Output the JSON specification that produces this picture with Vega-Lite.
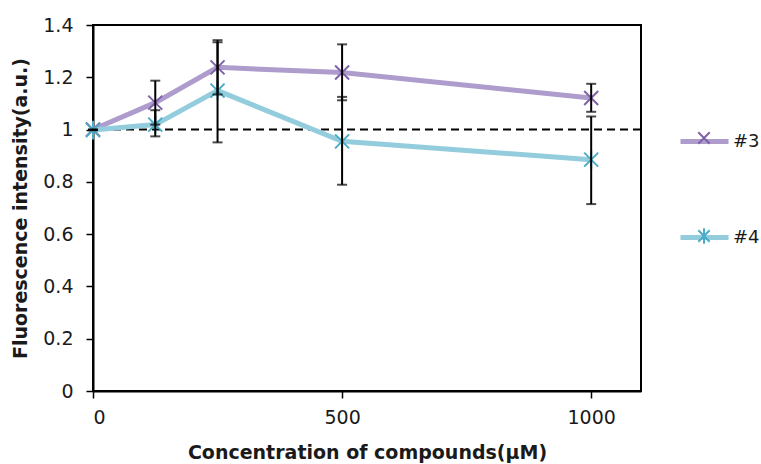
{
  "$schema": "https://vega.github.io/schema/vega-lite/v6.json",
  "width": 548,
  "height": 366,
  "autosize": "none",
  "padding": {"left": 93, "top": 25, "right": 120, "bottom": 73},
  "background": "white",
  "config": {
    "font": "DejaVu Sans",
    "view": {"stroke": "black", "strokeWidth": 2},
    "axis": {
      "grid": false,
      "domainColor": "black",
      "domainWidth": 2,
      "tickColor": "black",
      "tickWidth": 1.5,
      "tickSize": 7,
      "labelFont": "DejaVu Sans",
      "labelFontSize": 19,
      "labelColor": "#1a1a1a",
      "titleFont": "DejaVu Sans",
      "titleFontSize": 19,
      "titleFontWeight": "bold",
      "titleColor": "#1a1a1a"
    }
  },
  "data": {
    "values": [
      {"series": "#3", "conc": 0, "value": 1.0, "lo": 1.0, "hi": 1.0},
      {"series": "#3", "conc": 125, "value": 1.103, "lo": 1.019, "hi": 1.187},
      {"series": "#3", "conc": 250, "value": 1.238, "lo": 1.134, "hi": 1.342},
      {"series": "#3", "conc": 500, "value": 1.218, "lo": 1.112, "hi": 1.326},
      {"series": "#3", "conc": 1000, "value": 1.121, "lo": 1.068, "hi": 1.175},
      {"series": "#4", "conc": 0, "value": 0.998, "lo": 0.998, "hi": 0.998},
      {"series": "#4", "conc": 125, "value": 1.019, "lo": 0.974, "hi": 1.074},
      {"series": "#4", "conc": 250, "value": 1.149, "lo": 0.951, "hi": 1.334},
      {"series": "#4", "conc": 500, "value": 0.955, "lo": 0.789, "hi": 1.125},
      {"series": "#4", "conc": 1000, "value": 0.885, "lo": 0.715, "hi": 1.05}
    ]
  },
  "encoding": {
    "x": {
      "field": "conc",
      "type": "quantitative",
      "scale": {"domain": [0, 1100], "nice": false},
      "axis": {
        "values": [0, 500, 1000],
        "format": "d",
        "title": "Concentration of compounds(μM)",
        "labelPadding": 10,
        "titlePadding": 16
      }
    }
  },
  "layer": [
    {
      "mark": {"type": "rule", "color": "black", "strokeWidth": 2, "strokeDash": [8, 5]},
      "data": {"values": [{"ref": 1}]},
      "encoding": {
        "x": null,
        "y": {"field": "ref", "type": "quantitative"}
      }
    },
    {
      "mark": {"type": "line", "strokeWidth": 5},
      "encoding": {
        "y": {
          "field": "value",
          "type": "quantitative",
          "scale": {"domain": [0, 1.4], "nice": false},
          "axis": {
            "values": [0, 0.2, 0.4, 0.6, 0.8, 1, 1.2, 1.4],
            "format": ".1~f",
            "title": "Fluorescence intensity(a.u.)",
            "labelPadding": 13,
            "titlePadding": 12
          }
        },
        "color": {
          "field": "series",
          "type": "nominal",
          "scale": {"domain": ["#3", "#4"], "range": ["#AE9DCC", "#93CDDD"]},
          "legend": {
            "orient": "none",
            "legendX": 585,
            "legendY": 90,
            "title": null,
            "symbolType": "stroke",
            "symbolSize": 2304,
            "symbolStrokeWidth": 5,
            "labelFont": "DejaVu Sans",
            "labelFontSize": 18,
            "labelColor": "#1a1a1a",
            "labelOffset": 2,
            "rowPadding": 59
          }
        }
      }
    },
    {
      "mark": {"type": "point", "filled": false, "strokeWidth": 2, "size": 196, "opacity": 1},
      "encoding": {
        "y": {"field": "value", "type": "quantitative"},
        "color": {
          "field": "series",
          "type": "nominal",
          "scale": {"domain": ["#3", "#4"], "range": ["#7F62A8", "#4BACC6"]},
          "legend": {
            "orient": "none",
            "legendX": 602,
            "legendY": 104,
            "title": null,
            "symbolSize": 130,
            "symbolStrokeWidth": 2,
            "labelFontSize": 18,
            "labelExpr": "''",
            "rowPadding": 76
          }
        },
        "shape": {
          "field": "series",
          "type": "nominal",
          "scale": {"domain": ["#3", "#4"], "range": ["M-1,-1L1,1M-1,1L1,-1", "M-1,-1L1,1M-1,1L1,-1M0,-1.35L0,1.35"]}
        }
      }
    },
    {
      "mark": {"type": "rule", "color": "black", "strokeWidth": 2},
      "encoding": {
        "y": {"field": "lo", "type": "quantitative"},
        "y2": {"field": "hi"}
      }
    },
    {
      "mark": {"type": "tick", "color": "black", "thickness": 2, "size": 10, "orient": "horizontal"},
      "encoding": {
        "y": {"field": "lo", "type": "quantitative"}
      }
    },
    {
      "mark": {"type": "tick", "color": "black", "thickness": 2, "size": 10, "orient": "horizontal"},
      "encoding": {
        "y": {"field": "hi", "type": "quantitative"}
      }
    }
  ],
  "resolve": {
    "scale": {"color": "independent", "shape": "independent"},
    "legend": {"color": "independent", "shape": "independent"}
  }
}
